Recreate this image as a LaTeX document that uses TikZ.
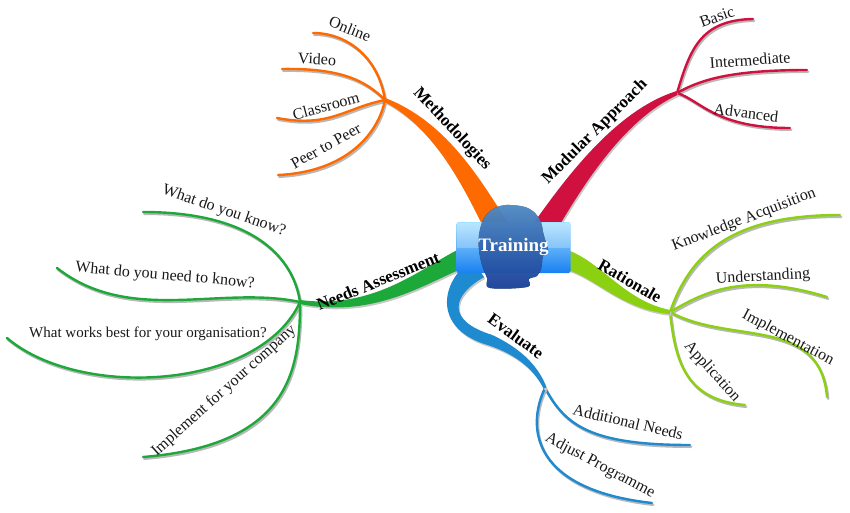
\documentclass[tikz,border=0pt]{standalone}
\usepackage{fontspec}
\setmainfont{Liberation Serif}
\usetikzlibrary{calc}
\definecolor{corange}{HTML}{FF6A00}
\definecolor{ccrimson}{HTML}{D0103F}
\definecolor{cgreen}{HTML}{1DA83A}
\definecolor{clime}{HTML}{8CD012}
\definecolor{cblue}{HTML}{1E8AD0}
\definecolor{headtop}{HTML}{5EA6EA}
\definecolor{headbot}{HTML}{1E4CB8}
\definecolor{boxtop}{HTML}{A4E0FF}
\definecolor{boxmid}{HTML}{55B8F8}
\definecolor{boxbot}{HTML}{1880F0}
\newcommand\twig[2]{\draw[twigshadow] #2;\draw[twigline,draw=#1] #2;}
\newcommand\limb[2]{\fill[limbshadow] #2;\fill[#1] #2;}
\begin{document}
\begin{tikzpicture}[x=1pt,y=-1pt,
  twigline/.style={line width=2.4pt,line cap=round},
  twigshadow/.style={line width=2.4pt,line cap=round,draw=black!28,transform canvas={shift={(1.2pt,-1.8pt)}}},
  limbshadow/.style={fill=black!22,transform canvas={shift={(1.2pt,-1.8pt)}}},
  lbl/.style={font=\fontsize{16}{18}\selectfont,text=black!90,inner sep=0pt},
  mlbl/.style={font=\fontsize{17}{19}\selectfont\bfseries,text=black,inner sep=0pt}]
\useasboundingbox (0,0) rectangle (850,513);

% hubs and ends
\coordinate (hubM) at (385,100);
\coordinate (hubA) at (677,93);
\coordinate (hubR) at (670,312);
\coordinate (hubN) at (300,302);
\coordinate (hubE) at (545,388);
\coordinate (eOn) at (313,33);
\coordinate (eVi) at (282,69);
\coordinate (eCl) at (277,118);
\coordinate (ePe) at (278,175);
\coordinate (eBa) at (753,19);
\coordinate (eIn) at (807,70);
\coordinate (eAd) at (790,128);
\coordinate (eKn) at (840,215);
\coordinate (eUn) at (827,297);
\coordinate (eIm) at (827,397);
\coordinate (eAp) at (745,405);
\coordinate (eWa) at (143,212);
\coordinate (eWb) at (57,268);
\coordinate (eWc) at (7,338);
\coordinate (eWd) at (143,457);
\coordinate (eAN) at (690,445);
\coordinate (eAP) at (652,503);

% thin branches
\twig{corange}{(hubM) .. controls (378,55) and (345,33) .. (eOn)}
\twig{corange}{(hubM) .. controls (365,80) and (340,68) .. (eVi)}
\twig{corange}{(hubM) .. controls (345,108) and (330,128) .. (eCl)}
\twig{corange}{(hubM) .. controls (378,135) and (345,172) .. (ePe)}
\twig{ccrimson}{(hubA) .. controls (690,50) and (700,20) .. (eBa)}
\twig{ccrimson}{(hubA) .. controls (700,80) and (730,70) .. (eIn)}
\twig{ccrimson}{(hubA) .. controls (700,100) and (715,128) .. (eAd)}
\twig{clime}{(hubR) .. controls (690,255) and (730,215) .. (eKn)}
\twig{clime}{(hubR) .. controls (700,295) and (740,270) .. (eUn)}
\twig{clime}{(hubR) .. controls (730,345) and (820,315) .. (eIm)}
\twig{clime}{(hubR) .. controls (675,360) and (685,400) .. (eAp)}
\twig{cgreen}{(hubN) .. controls (293,255) and (250,212) .. (eWa)}
\twig{cgreen}{(hubN) .. controls (220,285) and (130,325) .. (eWb)}
\twig{cgreen}{(hubN) .. controls (260,390) and (80,400) .. (eWc)}
\twig{cgreen}{(hubN) .. controls (300,370) and (290,445) .. (eWd)}
\twig{cblue}{(hubE) .. controls (565,425) and (590,445) .. (eAN)}
\twig{cblue}{(hubE) .. controls (525,430) and (535,490) .. (eAP)}

% thick tapered branches
\limb{corange}{(487.4,235.2) .. controls (462.8,185.4) and (435.2,128.6) .. (384.2,101.8) -- (385.8,98.2) .. controls (444.8,121.4) and (477.2,174.6) .. (506.6,220.8) -- cycle}
\limb{ccrimson}{(529.9,228.5) .. controls (567.5,175) and (616.1,110.4) .. (676.3,91.1) -- (677.7,94.9) .. controls (623.9,119.6) and (582.5,185) .. (550.1,241.5) -- cycle}
\limb{clime}{(562,248.2) .. controls (600,258.7) and (622.7,300.8) .. (670.3,310) -- (669.7,314) .. controls (617.4,309.3) and (590,271.3) .. (558,267.8) -- cycle}
\limb{cgreen}{(466.5,245.6) .. controls (425.6,263.4) and (378.8,310.2) .. (300.3,300) -- (299.7,304) .. controls (381.2,319.9) and (434.4,276.6) .. (473.5,264.4) -- cycle}
\limb{cblue}{(484,277.1) .. controls (452.5,295) and (445.2,320.3) .. (491.8,334.8) .. controls (517,346.5) and (537.3,363.1) .. (546.4,387.4) -- (543.6,388.6) .. controls (532.7,366.9) and (513,353.5) .. (488.2,345.2) .. controls (434.8,329.7) and (437.5,285) .. (472,258.9) -- cycle}

% central box
\node[rounded corners=2pt,minimum width=114pt,minimum height=51pt,
      top color=boxtop,middle color=boxmid,bottom color=boxbot] (train) at (513.5,247.5) {};
\fill[white,opacity=0.25] ([xshift=1pt,yshift=-1pt]train.north west) rectangle ([xshift=-1pt]train.east);

% head silhouette (profile facing right)
\fill[top color=headtop,bottom color=headbot,fill opacity=0.8] plot[smooth cycle,tension=0.6] coordinates {(510,205) (525,207) (535,213) (541,222) (543,232) (546,243) (548,251) (543,256) (542,263) (541,269) (537,276) (529,279) (527,287) (490,288) (487,278) (482,265) (479,250) (479,235) (483,220) (490,211) (500,206)};

% title text
\node[text=white,font=\fontsize{19}{21}\selectfont\bfseries,inner sep=0pt] (trainlbl) at (train.center) {Training};

% main labels
\node[mlbl,rotate=-47] (lMeth) at (452,129) {Methodologies};
\node[mlbl,rotate=45] (lMod) at (595,132) {Modular Approach};
\node[mlbl,rotate=-30] (lRat) at (630,281) {Rationale};
\node[mlbl,rotate=22] (lNeeds) at (378,281) {Needs Assessment};
\node[mlbl,rotate=-36] (lEval) at (516,336) {Evaluate};

% sub labels
\node[lbl,rotate=-22] (tOn) at (350,29) {Online};
\node[lbl,rotate=-3] (tVi) at (317,59) {Video};
\node[lbl,rotate=15] (tCl) at (326,106) {Classroom};
\node[lbl,rotate=29] (tPe) at (326,146) {Peer to Peer};
\node[lbl,rotate=20] (tBa) at (717,17) {Basic};
\node[lbl,rotate=4] (tIn) at (750,60) {Intermediate};
\node[lbl,rotate=-7] (tAd) at (746,113) {Advanced};
\node[lbl,rotate=21] (tKn) at (744,220) {Knowledge Acquisition};
\node[lbl,rotate=3] (tUn) at (763,277) {Understanding};
\node[lbl,rotate=-28] (tIm) at (788,338) {Implementation};
\node[lbl,rotate=-48] (tAp) at (712,372) {Application};
\node[lbl,rotate=-19] (tWa) at (224,211) {What do you know?};
\node[lbl,rotate=-5] (tWb) at (165,276) {What do you need to know?};
\node[lbl,font=\fontsize{15}{17}\selectfont] (tWc) at (148,334) {What works best for your organisation?};
\node[lbl,rotate=42] (tWd) at (224,391) {Implement for your company};
\node[lbl,rotate=-13] (tAN) at (628,422) {Additional Needs};
\node[lbl,rotate=-28] (tAP) at (600,466) {Adjust Programme};
\end{tikzpicture}
\end{document}
